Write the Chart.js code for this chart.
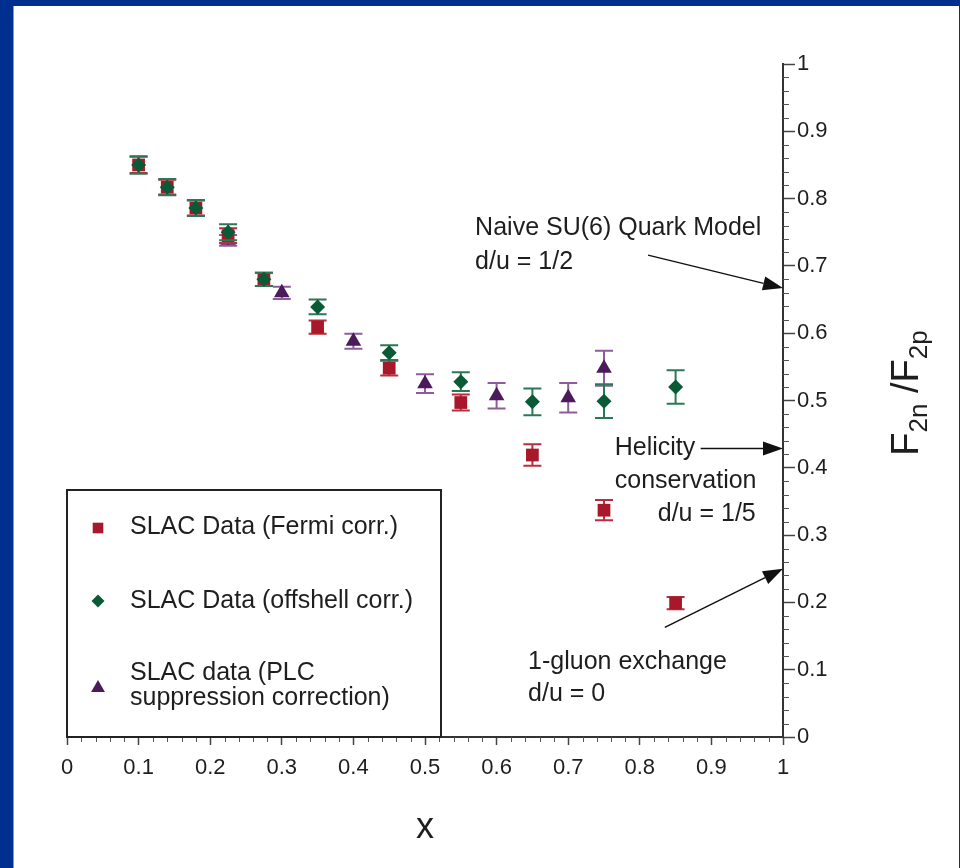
<!DOCTYPE html>
<html>
<head>
<meta charset="utf-8">
<title>F2n/F2p vs x</title>
<script src="https://cdn.jsdelivr.net/npm/chart.js@4.4.0/dist/chart.umd.min.js"></script>
<style>
    html, body { margin: 0; padding: 0; background: #fff; }
    #chart { display: block; }
</style>
</head>
<body>
<canvas id="chart" width="960" height="868"></canvas>
<script>
// SLAC data, Fermi motion correction
const xFermi   = [0.1, 0.14, 0.18, 0.225, 0.275, 0.35, 0.45, 0.55, 0.65, 0.75, 0.85];
const yFermi   = [0.85, 0.817, 0.786, 0.745, 0.68, 0.609, 0.548, 0.497, 0.419, 0.337, 0.199];
const errFermi = [0.012, 0.011, 0.011, 0.011, 0.01, 0.01, 0.011, 0.012, 0.016, 0.015, 0.009];

// SLAC data, offshell correction
const xOffshell   = [0.1, 0.14, 0.18, 0.225, 0.275, 0.35, 0.45, 0.55, 0.65, 0.75, 0.85];
const yOffshell   = [0.85, 0.817, 0.786, 0.75, 0.68, 0.639, 0.571, 0.528, 0.498, 0.499, 0.52];
const errOffshell = [0.013, 0.012, 0.012, 0.012, 0.01, 0.011, 0.011, 0.014, 0.02, 0.025, 0.025];

// SLAC data, PLC suppression correction
const xPlc   = [0.225, 0.3, 0.4, 0.5, 0.6, 0.7, 0.75];
const yPlc   = [0.738, 0.66, 0.588, 0.525, 0.507, 0.504, 0.548];
const errPlc = [0.008, 0.009, 0.011, 0.014, 0.019, 0.022, 0.026];

const tickValues = [0, 0.1, 0.2, 0.3, 0.4, 0.5, 0.6, 0.7, 0.8, 0.9, 1];

// limits for F2n/F2p at x -> 1
const limitValues = [0.667, 0.4286, 0.25];
const limitTexts = [
    ['Naive SU(6) Quark Model', 'd/u = 1/2'],
    ['Helicity', 'conservation', 'd/u = 1/5'],
    ['1-gluon exchange', 'd/u = 0']
];

const legendTexts = [
    ['SLAC Data (Fermi corr.)'],
    ['SLAC Data (offshell corr.)'],
    ['SLAC data (PLC', 'suppression correction)']
];

const FONT = "'Liberation Sans', Arial, Helvetica, sans-serif";
const TEXT = '#1e1e1e';
Chart.defaults.font.family = FONT;

function points(xs, ys) {
    return xs.map((x, i) => ({x: x, y: ys[i]}));
}

function drawMarker(ctx, style, x, y, r, color) {
    ctx.beginPath();
    if (style === 'rect') {
        const s = r * Math.SQRT1_2;
        ctx.rect(x - s, y - s, 2 * s, 2 * s);
    } else if (style === 'rectRot') {
        ctx.moveTo(x - r, y);
        ctx.lineTo(x, y - r);
        ctx.lineTo(x + r, y);
        ctx.lineTo(x, y + r);
        ctx.closePath();
    } else {
        for (let k = 0; k < 3; k++) {
            const a = k * 2 * Math.PI / 3;
            const px = x + Math.sin(a) * r, py = y - Math.cos(a) * r;
            if (k) ctx.lineTo(px, py); else ctx.moveTo(px, py);
        }
        ctx.closePath();
    }
    ctx.fillStyle = color;
    ctx.fill();
}

function arrow(ctx, x0, y0, x1, y1) {
    const a = Math.atan2(y1 - y0, x1 - x0), len = 20, half = 7;
    const bx = x1 - Math.cos(a) * len, by = y1 - Math.sin(a) * len;
    ctx.beginPath();
    ctx.moveTo(x0, y0);
    ctx.lineTo(bx, by);
    ctx.stroke();
    ctx.beginPath();
    ctx.moveTo(x1, y1);
    ctx.lineTo(bx - Math.sin(a) * half, by + Math.cos(a) * half);
    ctx.lineTo(bx + Math.sin(a) * half, by - Math.cos(a) * half);
    ctx.closePath();
    ctx.fill();
}

// blue slide frame behind the plot
const frame = {
    id: 'frame',
    beforeDraw(chart) {
        const ctx = chart.ctx;
        ctx.save();
        ctx.fillStyle = '#00308f';
        ctx.fillRect(0, 0, chart.width, chart.height);
        ctx.fillStyle = '#fff';
        ctx.fillRect(13, 6, chart.width - 14, chart.height - 6);
        ctx.fillStyle = '#7f95cc';
        ctx.fillRect(13, 6, 1, chart.height - 6);
        ctx.restore();
    }
};

// vertical error bars, drawn just before each dataset's markers
const errorBars = {
    id: 'errorBars',
    beforeDatasetDraw(chart, args) {
        const ds = chart.data.datasets[args.index];
        const {ctx, scales: {x, y}} = chart;
        ctx.save();
        ctx.strokeStyle = ds.errorColor;
        ctx.lineWidth = 2;
        ds.data.forEach((p, i) => {
            const px = x.getPixelForValue(p.x);
            const top = y.getPixelForValue(p.y + ds.errors[i]);
            const bot = y.getPixelForValue(p.y - ds.errors[i]);
            ctx.beginPath();
            ctx.moveTo(px, top); ctx.lineTo(px, bot);
            ctx.moveTo(px - 9, top); ctx.lineTo(px + 9, top);
            ctx.moveTo(px - 9, bot); ctx.lineTo(px + 9, bot);
            ctx.stroke();
        });
        ctx.restore();
    }
};

// minor ticks, y title with subscripts, arrows and notes, legend box
const extras = {
    id: 'extras',
    afterDraw(chart) {
        const {ctx, chartArea: area, scales: {x, y}} = chart;
        ctx.save();

        ctx.strokeStyle = '#555';
        ctx.lineWidth = 1;
        for (let i = 1; i < 50; i++) {
            if (i % 5 === 0) continue;
            const v = i / 50;
            const px = Math.round(x.getPixelForValue(v)) + 0.5;
            const py = Math.round(y.getPixelForValue(v)) + 0.5;
            ctx.beginPath();
            ctx.moveTo(px, area.bottom); ctx.lineTo(px, area.bottom + 5);
            ctx.moveTo(area.right, py); ctx.lineTo(area.right + 6, py);
            ctx.stroke();
        }

        // F2n/F2p, rotated
        ctx.fillStyle = TEXT;
        ctx.textBaseline = 'alphabetic';
        ctx.textAlign = 'left';
        const big = '38px ' + FONT, small = '26px ' + FONT;
        const parts = [['F', big, 0], ['2n', small, 9], [' /', big, 0], ['F', big, 0], ['2p', small, 9]];
        let total = 0;
        parts.forEach(p => { ctx.font = p[1]; total += ctx.measureText(p[0]).width; });
        ctx.save();
        ctx.translate(918, 393 + total / 2);
        ctx.rotate(-Math.PI / 2);
        let cx = 0;
        parts.forEach(p => {
            ctx.font = p[1];
            ctx.fillText(p[0], cx, p[2]);
            cx += ctx.measureText(p[0]).width;
        });
        ctx.restore();

        // notes pointing at the limits on the axis
        const notePos = [
            {tx: 0.57, ty: [0.756, 0.706], from: [0.8115, 0.716]},
            {tx: 0.765, ty: [0.4294, 0.38, 0.3314], from: [0.885, 0.4286], shift: [0, 0, 43]},
            {tx: 0.644, ty: [0.1114, 0.0639], from: [0.835, 0.163]}
        ];
        ctx.font = '25px ' + FONT;
        ctx.textBaseline = 'middle';
        ctx.strokeStyle = '#111';
        ctx.fillStyle = TEXT;
        ctx.lineWidth = 1.5;
        notePos.forEach((n, k) => {
            limitTexts[k].forEach((line, j) => {
                const dx = n.shift ? n.shift[j] : 0;
                ctx.fillText(line, x.getPixelForValue(n.tx) + dx, y.getPixelForValue(n.ty[j]));
            });
            ctx.fillStyle = '#111';
            arrow(ctx, x.getPixelForValue(n.from[0]), y.getPixelForValue(n.from[1]),
                area.right, y.getPixelForValue(limitValues[k]));
            ctx.fillStyle = TEXT;
        });

        // legend
        const box = {left: area.left, right: 441, top: 490, bottom: area.bottom};
        ctx.strokeStyle = '#222';
        ctx.lineWidth = 2;
        ctx.strokeRect(box.left, box.top, box.right - box.left, box.bottom - box.top);
        const rows = [[527], [601], [673, 698]];
        const markY = [528, 601, 688];
        const markR = [7.5, 6.5, 8];
        chart.data.datasets.forEach((ds, k) => {
            drawMarker(ctx, ds.pointStyle, box.left + 31, markY[k], markR[k], ds.backgroundColor);
            ctx.fillStyle = TEXT;
            legendTexts[k].forEach((line, j) => ctx.fillText(line, box.left + 63, rows[k][j]));
        });
        ctx.restore();
    }
};

new Chart(document.getElementById('chart'), {
    type: 'scatter',
    data: {
        datasets: [
            {
                label: 'SLAC Data (Fermi corr.)',
                data: points(xFermi, yFermi),
                errors: errFermi,
                errorColor: '#bb2c3c',
                pointStyle: 'rect',
                pointRadius: 9,
                backgroundColor: '#a8182b',
                borderColor: '#a8182b',
                borderWidth: 0,
                order: 1
            },
            {
                label: 'SLAC Data (offshell corr.)',
                data: points(xOffshell, yOffshell),
                errors: errOffshell,
                errorColor: '#2b7856',
                pointStyle: 'rectRot',
                pointRadius: 7.5,
                backgroundColor: '#0b5a36',
                borderColor: '#0b5a36',
                borderWidth: 0,
                order: 0
            },
            {
                label: 'SLAC data (PLC suppression correction)',
                data: points(xPlc, yPlc),
                errors: errPlc,
                errorColor: '#8e5c9c',
                pointStyle: 'triangle',
                pointRadius: 9,
                backgroundColor: '#4b1a5a',
                borderColor: '#4b1a5a',
                borderWidth: 0,
                order: 2
            }
        ]
    },
    options: {
        responsive: false,
        animation: false,
        devicePixelRatio: 1,
        layout: {padding: {left: 67, top: 64, right: 0, bottom: 0}},
        plugins: {
            legend: {display: false},
            tooltip: {enabled: false}
        },
        scales: {
            x: {
                type: 'linear',
                position: 'bottom',
                min: 0,
                max: 1,
                afterBuildTicks: s => { s.ticks = tickValues.map(v => ({value: v})); },
                afterFit: s => { s.height = 131; },
                ticks: {
                    font: {size: 22},
                    color: TEXT,
                    padding: 10,
                    maxRotation: 0,
                    autoSkip: false,
                    callback: v => String(v)
                },
                grid: {drawOnChartArea: false, drawTicks: true, tickLength: 8, tickColor: '#444', tickWidth: 1.5},
                border: {display: true, color: '#333', width: 2},
                title: {display: true, text: 'x', color: TEXT, font: {size: 36}, padding: {top: 0, bottom: 18}}
            },
            y: {
                type: 'linear',
                position: 'right',
                min: 0,
                max: 1,
                afterBuildTicks: s => { s.ticks = tickValues.map(v => ({value: v})); },
                afterFit: s => { s.width = 177; },
                ticks: {
                    font: {size: 22},
                    color: TEXT,
                    padding: 2,
                    autoSkip: false,
                    callback: v => String(v)
                },
                grid: {drawOnChartArea: false, drawTicks: true, tickLength: 12, tickColor: '#444', tickWidth: 1.5},
                border: {display: true, color: '#333', width: 2}
            }
        }
    },
    plugins: [frame, errorBars, extras]
});
</script>
</body>
</html>
